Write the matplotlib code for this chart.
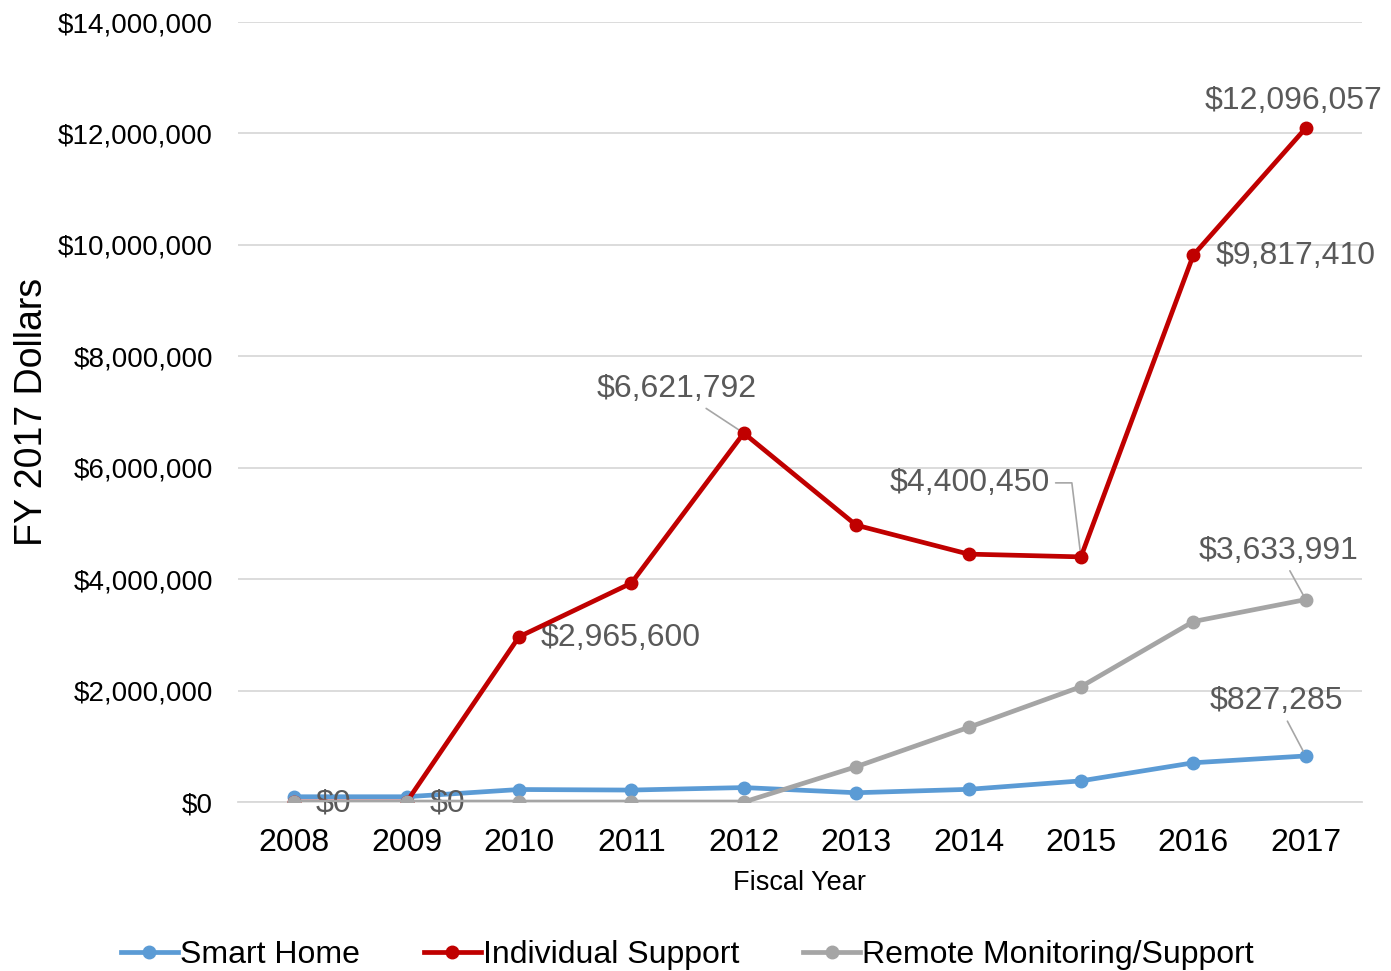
import matplotlib.pyplot as plt
from matplotlib.ticker import FuncFormatter

plt.rcParams['font.family'] = ['Liberation Sans', 'DejaVu Sans']

# Données (dollars FY 2017)
years = [2008, 2009, 2010, 2011, 2012, 2013, 2014, 2015, 2016, 2017]
smart_home = [95000, 95000, 225000, 215000, 260000, 167000, 228000, 380000, 705000, 827285]
individual_support = [0, 0, 2965600, 3930000, 6621792, 4970000, 4450000, 4400450, 9817410, 12096057]
remote_monitoring = [0, 0, 0, 0, 0, 634000, 1340000, 2070000, 3240000, 3633991]

blue = "#5B9BD5"
red = "#C00000"
grey = "#A5A5A5"
label_col = "#595959"

fig = plt.figure(figsize=(13.91, 9.71), dpi=100)
ax = fig.add_axes([0.1711, 0.1740, 0.808, 0.8033])

ax.plot(years, smart_home, color=blue, lw=3.4, marker='o', ms=9, label="Smart Home", zorder=3)
ax.plot(years, individual_support, color=red, lw=3.4, marker='o', ms=9, label="Individual Support", zorder=4)
ax.plot(years, remote_monitoring, color=grey, lw=3.4, marker='o', ms=9, label="Remote Monitoring/Support", zorder=5)

ax.set_xlim(2007.5, 2017.5)
ax.set_ylim(0, 14000000)
ax.set_yticks(range(0, 14000001, 2000000))
ax.set_xticks(years)
ax.yaxis.set_major_formatter(FuncFormatter(lambda v, p: f"${v:,.0f}"))
ax.grid(axis='y', color="#D9D9D9", lw=1.3)
ax.set_axisbelow(True)
for s in ['top', 'right', 'left']:
    ax.spines[s].set_visible(False)
ax.spines['bottom'].set_color("#D9D9D9")
ax.spines['bottom'].set_linewidth(1.3)
ax.tick_params(axis='y', length=0, pad=18, labelsize=20)
ax.tick_params(axis='x', length=0, pad=18.5, labelsize=23)

ax.set_xlabel("Fiscal Year", fontsize=19.5, labelpad=9)
ax.set_ylabel("FY 2017 Dollars", fontsize=27, labelpad=6)

# Étiquettes de valeurs
lbl = dict(fontsize=23, color=label_col, textcoords='offset pixels')
line = dict(arrowstyle='-', color="#A6A6A6", lw=1.2, shrinkA=2, shrinkB=4)

ax.annotate(f"${individual_support[0]:,}", (years[0], individual_support[0]), xytext=(21, -1), ha='left', va='center', **lbl)
ax.annotate(f"${individual_support[1]:,}", (years[1], individual_support[1]), xytext=(23, -1), ha='left', va='center', **lbl)
ax.annotate(f"${individual_support[2]:,}", (years[2], individual_support[2]), xytext=(22, -1), ha='left', va='center', **lbl)
ax.annotate(f"${individual_support[4]:,}", (years[4], individual_support[4]), xytext=(-67, 44), ha='center', va='center',
            arrowprops=line, **lbl)
ax.annotate(f"${individual_support[7]:,}", (years[7], individual_support[7]), xytext=(-111, 74), ha='center', va='center',
            arrowprops=dict(line, connectionstyle="angle,angleA=0,angleB=97,rad=0"), **lbl)
ax.annotate(f"${individual_support[8]:,}", (years[8], individual_support[8]), xytext=(22, -1), ha='left', va='center', **lbl)
ax.annotate(f"${individual_support[9]:,}", (years[9], individual_support[9]), xytext=(-12, 27), ha='center', va='center', **lbl)
ax.annotate(f"${remote_monitoring[9]:,}", (years[9], remote_monitoring[9]), xytext=(-27, 49), ha='center', va='center',
            arrowprops=line, **lbl)
ax.annotate(f"${smart_home[9]:,}", (years[9], smart_home[9]), xytext=(-29, 55), ha='center', va='center',
            arrowprops=line, **lbl)

fig.legend(loc='center', bbox_to_anchor=(0.494, 0.016), ncol=3, frameon=False, fontsize=23,
           handlelength=1.8, handletextpad=0.05, columnspacing=2.0)

plt.savefig("out.png", dpi=100)
